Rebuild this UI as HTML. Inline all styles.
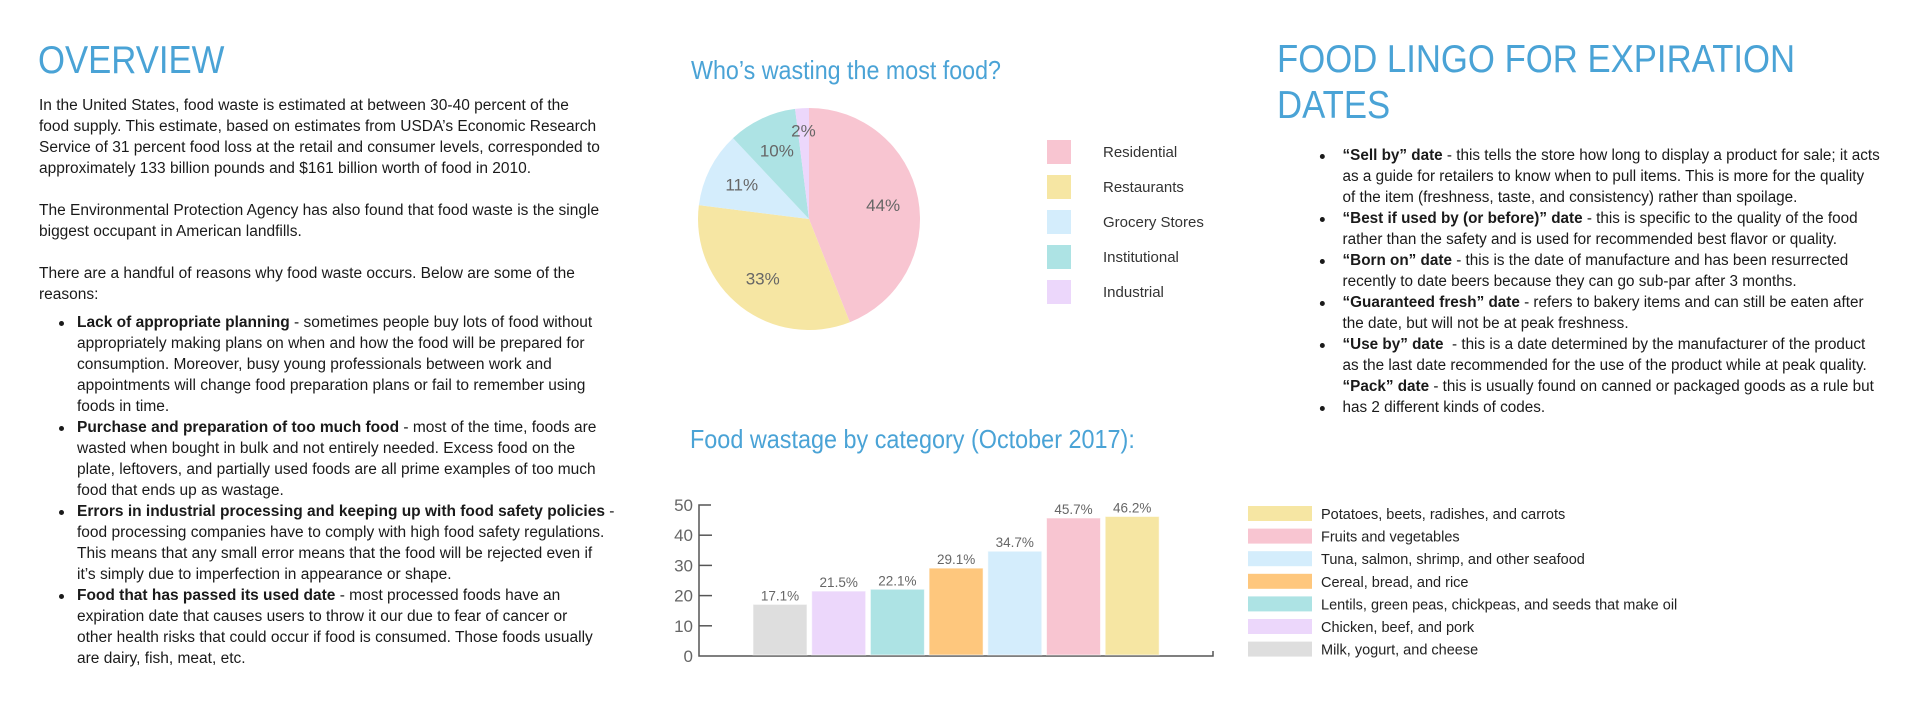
<!DOCTYPE html>
<html><head><meta charset="utf-8">
<style>
body{margin:0;width:1920px;height:710px;background:#fff;overflow:hidden;position:relative;font-family:"Liberation Sans",sans-serif;color:#1a1a1a}
.abs{position:absolute;white-space:nowrap}
.h{color:#4aa3d6;font-size:39px;transform-origin:left top;transform:scaleX(0.89);line-height:56px}
.body{font-size:15.5px;line-height:21px;transform-origin:left top;transform:scaleX(1.0)}
.body.r{transform:scaleX(0.985)}
.body b{font-weight:bold}
ul{margin:0;padding:0;list-style:none}
li{position:relative;padding-left:31px}
li::before{content:"";position:absolute;left:8px;top:9px;width:5px;height:5px;border-radius:50%;background:#1a1a1a}
.ov li{padding-left:38px}
.ov li::before{left:20px}
.ct{color:#4aa3d6;font-size:26px;transform-origin:left top}
</style></head><body>

<div class="abs h" style="left:38px;top:33px">OVERVIEW</div>
<div class="abs body ov" style="left:39px;top:95px">
<div>In the United States, food waste is estimated at between 30-40 percent of the<br>food supply. This estimate, based on estimates from USDA’s Economic Research<br>Service of 31 percent food loss at the retail and consumer levels, corresponded to<br>approximately 133 billion pounds and $161 billion worth of food in 2010.</div>
<div style="height:21px"></div>
<div>The Environmental Protection Agency has also found that food waste is the single<br>biggest occupant in American landfills.</div>
<div style="height:21px"></div>
<div>There are a handful of reasons why food waste occurs. Below are some of the<br>reasons:</div>
<div style="height:7px"></div>
<ul>
<li><b>Lack of appropriate planning</b> - sometimes people buy lots of food without<br>appropriately making plans on when and how the food will be prepared for<br>consumption. Moreover, busy young professionals between work and<br>appointments will change food preparation plans or fail to remember using<br>foods in time.</li>
<li><b>Purchase and preparation of too much food</b> - most of the time, foods are<br>wasted when bought in bulk and not entirely needed. Excess food on the<br>plate, leftovers, and partially used foods are all prime examples of too much<br>food that ends up as wastage.</li>
<li><b>Errors in industrial processing and keeping up with food safety policies</b> -<br>food processing companies have to comply with high food safety regulations.<br>This means that any small error means that the food will be rejected even if<br>it’s simply due to imperfection in appearance or shape.</li>
<li><b>Food that has passed its used date</b> - most processed foods have an<br>expiration date that causes users to throw it our due to fear of cancer or<br>other health risks that could occur if food is consumed. Those foods usually<br>are dairy, fish, meat, etc.</li>
</ul>
</div>

<div class="abs h" style="left:1277px;top:37px;line-height:46px">FOOD LINGO FOR EXPIRATION<br>DATES</div>
<div class="abs body r" style="left:1312px;top:145px">
<ul>
<li><b>“Sell by” date</b> - this tells the store how long to display a product for sale; it acts<br>as a guide for retailers to know when to pull items. This is more for the quality<br>of the item (freshness, taste, and consistency) rather than spoilage.</li>
<li><b>“Best if used by (or before)” date</b> - this is specific to the quality of the food<br>rather than the safety and is used for recommended best flavor or quality.</li>
<li><b>“Born on” date</b> - this is the date of manufacture and has been resurrected<br>recently to date beers because they can go sub-par after 3 months.</li>
<li><b>“Guaranteed fresh” date</b> - refers to bakery items and can still be eaten after<br>the date, but will not be at peak freshness.</li>
<li><b>“Use by” date</b>&nbsp; - this is a date determined by the manufacturer of the product<br>as the last date recommended for the use of the product while at peak quality.<br><b>“Pack” date</b> - this is usually found on canned or packaged goods as a rule but</li>
<li>has 2 different kinds of codes.</li>
</ul>
</div>

<div class="abs ct" style="left:691px;top:55px;transform:scaleX(0.895)">Who’s wasting the most food?</div>
<div class="abs ct" style="left:690px;top:424px;transform:scaleX(0.9)">Food wastage by category (October 2017):</div>

<svg id="charts" width="1920" height="710" style="position:absolute;left:0;top:0" xmlns="http://www.w3.org/2000/svg"></svg>

<script>
const pieLabels = ["Residential","Restaurants","Grocery Stores","Institutional","Industrial"];
const pieValues = [44, 33, 11, 10, 2];
const pieColors = ["#f8c5d1","#f6e6a3","#d4edfc","#ade3e4","#ecd7fb"];

const barCategories = ["Milk, yogurt, and cheese","Chicken, beef, and pork","Lentils, green peas, chickpeas, and seeds that make oil","Cereal, bread, and rice","Tuna, salmon, shrimp, and other seafood","Fruits and vegetables","Potatoes, beets, radishes, and carrots"];
const barValues = [17.1, 21.5, 22.1, 29.1, 34.7, 45.7, 46.2];
const barValueLabels = ["17.1%","21.5%","22.1%","29.1%","34.7%","45.7%","46.2%"];
const barColors = ["#dedede","#ecd7fb","#ade3e4","#fec77d","#d4edfc","#f8c5d1","#f6e6a3"];
const yTicks = [0, 10, 20, 30, 40, 50];
const legendOrder = [6, 5, 4, 3, 2, 1, 0];

const NS = "http://www.w3.org/2000/svg";
const svg = document.getElementById("charts");
function mk(tag, attrs, parent) {
  const e = document.createElementNS(NS, tag);
  for (const k in attrs) e.setAttribute(k, attrs[k]);
  (parent || svg).appendChild(e);
  return e;
}

// Pie
const cx = 809, cy = 219, R = 111;
const total = pieValues.reduce((a, b) => a + b, 0);
function angle(v) { return v / total * Math.PI * 2; }
let acc = 0;
pieValues.forEach((v, i) => {
  const a0 = angle(acc), a1 = angle(acc + v);
  acc += v;
  const x0 = cx + R * Math.sin(a0), y0 = cy - R * Math.cos(a0);
  const x1 = cx + R * Math.sin(a1), y1 = cy - R * Math.cos(a1);
  const large = (a1 - a0) > Math.PI ? 1 : 0;
  const p = mk("path", {d: `M${cx},${cy} L${x0},${y0} A${R},${R} 0 ${large} 1 ${x1},${y1} Z`, fill: pieColors[i]});
  
  
  const am = (a0 + a1) / 2;
  const lr = v < 5 ? R * 0.8 : R * 0.68;
  const t = mk("text", {x: cx + lr * Math.sin(am), y: cy - lr * Math.cos(am) + 6, "text-anchor": "middle", "font-size": "17", fill: "#666", "font-family": "Liberation Sans, sans-serif"});
  t.textContent = v + "%";
  
  
  const ly = 140 + i * 35;
  const sw = mk("rect", {x: 1047, y: ly, width: 24, height: 24, fill: pieColors[i]});
  
  
  const lt = mk("text", {x: 1103, y: ly + 17, "font-size": "15", fill: "#333", "font-family": "Liberation Sans, sans-serif"});
  lt.textContent = pieLabels[i];
  
  
});

// Bar chart
const x0 = 699, y0 = 656, yMax = 50, plotH = 151;
function yPos(v) { return y0 - v / yMax * plotH; }
const barStart = 753, barStep = 58.7, barW = 54;
function xPos(i) { return barStart + i * barStep; }

const axis = mk("path", {d: `M${x0 + 12},${yPos(yMax)} L${x0},${yPos(yMax)} L${x0},${y0} L1213,${y0} L1213,${y0-5}`, stroke: "#555", "stroke-width": "1.5", fill: "none"});


yTicks.forEach(t => {
  const y = yPos(t);
  if (t > 0 && t < yMax) {
    const tk = mk("line", {x1: x0, x2: x0 + 13, y1: y, y2: y, stroke: "#555", "stroke-width": "1.5"});
    
    
  }
  const tl = mk("text", {x: x0 - 6, y: y + 6, "text-anchor": "end", "font-size": "17", fill: "#666", "font-family": "Liberation Sans, sans-serif"});
  tl.textContent = t;
  
  
});
barValues.forEach((v, i) => {
  const b = mk("rect", {x: xPos(i), y: yPos(v), width: barW, height: y0 - 1 - yPos(v), fill: barColors[i], stroke: "rgba(255,255,255,0.6)", "stroke-width": "1"});
  
  
  const t = mk("text", {x: xPos(i) + barW / 2, y: yPos(v) - 4, "text-anchor": "middle", "font-size": "13.5", fill: "#666", "font-family": "Liberation Sans, sans-serif"});
  t.textContent = barValueLabels[i];
  
  
});
legendOrder.forEach((idx, k) => {
  const ly = 506 + k * 22.6;
  const sw = mk("rect", {x: 1248, y: ly, width: 64, height: 15, fill: barColors[idx]});
  
  
  const lt = mk("text", {x: 1321, y: ly + 13, "font-size": "14.5", fill: "#222", "font-family": "Liberation Sans, sans-serif"});
  lt.textContent = barCategories[idx];
  
  
});
</script>
</body></html>
